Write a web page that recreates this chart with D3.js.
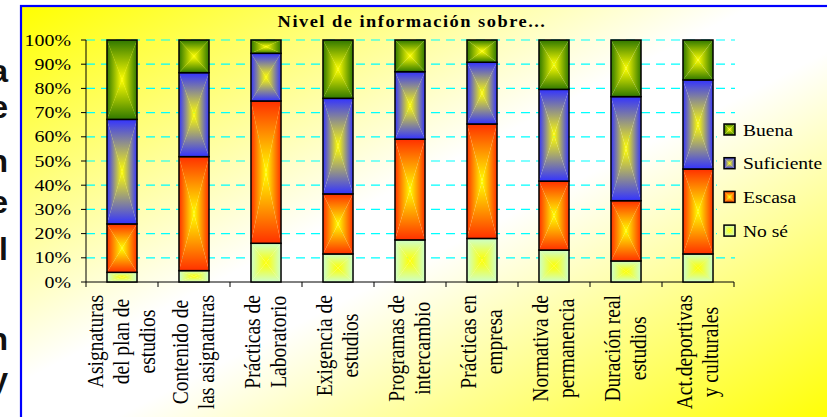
<!DOCTYPE html>
<html>
<head>
<meta charset="utf-8">
<script src="https://cdn.jsdelivr.net/npm/d3@7"></script>
<style>
  html, body { margin: 0; padding: 0; background: #fff; }
  svg { display: block; }
</style>
</head>
<body>
<svg id="chart" width="827" height="417"></svg>
<script>
// Data (percent of answers)
const categories = [
  ["Asignaturas", "del plan de", "estudios"],
  ["Contenido de", "las asignaturas"],
  ["Prácticas de", "Laboratorio"],
  ["Exigencia de", "estudios"],
  ["Programas de", "intercambio"],
  ["Prácticas en", "empresa"],
  ["Normativa de", "permanencia"],
  ["Duración real", "estudios"],
  ["Act.deportivas", "y culturales"]
];
const seriesNames = ["No sé", "Escasa", "Suficiente", "Buena"];
const noSe       = [4.0, 4.7, 16.0, 11.6, 17.4, 18.0, 13.2, 8.7, 11.6];
const escasa     = [20.0, 47.1, 58.8, 24.8, 41.6, 47.3, 28.5, 24.9, 35.1];
const suficiente = [43.2, 34.7, 19.7, 39.5, 27.9, 25.5, 37.9, 43.0, 36.8];
const buena      = [32.8, 13.5, 5.5, 24.1, 13.1, 9.2, 20.4, 23.4, 16.5];
const yTicks = [0, 10, 20, 30, 40, 50, 60, 70, 80, 90, 100];
const title = "Nivel de información sobre...";
// cropped slide text on the left of the chart
const sideLetters = ["a", "e", "n", "e", "l", "n", "y"];
const sideBaselines = [82, 118, 172, 213, 260, 350, 390];

const edgeColors = ["#ccffcc", "#ff3000", "#3333ff", "#307800"];
const S = 1.15; // glyphs look wider than normal
const serif = "'Liberation Serif', 'Times New Roman', Times, serif";

const svg = d3.select("#chart");
const defs = svg.append("defs");

// frame box (goes on past the window)
const frame = { x: 21, y: 6, w: 814, h: 418 };

// background gradient, yellow corners, white across the middle
const bg = defs.append("linearGradient")
  .attr("id", "bg")
  .attr("gradientUnits", "userSpaceOnUse")
  .attr("gradientTransform", `translate(${frame.x},${frame.y}) scale(${frame.w},${frame.h})`)
  .attr("x1", 0).attr("y1", 0).attr("x2", 1).attr("y2", 1);
bg.append("stop").attr("offset", "0%").attr("stop-color", "#ffff00");
bg.append("stop").attr("offset", "45%").attr("stop-color", "#ffffff");
bg.append("stop").attr("offset", "55%").attr("stop-color", "#ffffff");
bg.append("stop").attr("offset", "100%").attr("stop-color", "#ffff00");

// rectangle "from centre" gradient: four triangles, each a linear gradient
const dirs = {
  t: [0, 0, 0, 1],
  b: [0, 1, 0, 0],
  l: [0, 0, 1, 0],
  r: [1, 0, 0, 0]
};
edgeColors.forEach((c, i) => {
  Object.keys(dirs).forEach(k => {
    const d = dirs[k];
    const g = defs.append("linearGradient")
      .attr("id", `g${i}${k}`)
      .attr("x1", d[0]).attr("y1", d[1]).attr("x2", d[2]).attr("y2", d[3]);
    g.append("stop").attr("offset", "0%").attr("stop-color", c);
    g.append("stop").attr("offset", "100%").attr("stop-color", "#ffff00");
  });
});

function drawBox(sel, x0, y0, x1, y1, i) {
  const cx = (x0 + x1) / 2, cy = (y0 + y1) / 2;
  const tris = [
    ["t", [[x0, y0], [x1, y0], [cx, cy]]],
    ["b", [[x0, y1], [x1, y1], [cx, cy]]],
    ["l", [[x0, y0], [x0, y1], [cx, cy]]],
    ["r", [[x1, y0], [x1, y1], [cx, cy]]]
  ];
  tris.forEach(([k, pts]) => {
    sel.append("path")
      .attr("d", "M" + pts.map(p => p.join(",")).join("L") + "Z")
      .attr("fill", `url(#g${i}${k})`);
  });
  sel.append("rect")
    .attr("x", x0).attr("y", y0)
    .attr("width", x1 - x0).attr("height", y1 - y0)
    .attr("fill", "none")
    .attr("stroke", "#000")
    .attr("stroke-width", 1.5);
}

// side letters (the slide behind the chart, cut at the window edge)
svg.selectAll(".side")
  .data(sideLetters)
  .enter()
  .append("text")
  .attr("class", "side")
  .attr("x", 8)
  .attr("y", (d, i) => sideBaselines[i])
  .attr("text-anchor", "end")
  .style("font-family", "'Liberation Sans', Arial, sans-serif")
  .style("font-size", "32px")
  .style("font-weight", "bold")
  .attr("fill", "#111")
  .text(d => d);

// chart background + border
svg.append("rect")
  .attr("x", frame.x).attr("y", frame.y)
  .attr("width", frame.w).attr("height", frame.h)
  .attr("fill", "url(#bg)")
  .attr("stroke", "#0000ff")
  .attr("stroke-width", 2.2);

// scales
const x = d3.scaleBand()
  .domain(d3.range(categories.length))
  .range([86, 734])
  .paddingInner(0.583)
  .paddingOuter(0.2915);
const y = d3.scaleLinear().domain([0, 100]).range([282, 40]);

// gridlines
svg.append("g")
  .selectAll("line")
  .data(yTicks.filter(d => d > 0))
  .enter()
  .append("line")
  .attr("x1", 86).attr("x2", 735)
  .attr("y1", d => y(d)).attr("y2", d => y(d))
  .attr("stroke", "#00ffff")
  .attr("stroke-width", 1.2)
  .attr("stroke-dasharray", "9,6");

// title
svg.append("text")
  .attr("transform", `translate(412,27) scale(${S},1)`)
  .attr("text-anchor", "middle")
  .style("font-family", serif)
  .style("font-size", "16px")
  .style("font-weight", "bold")
  .style("letter-spacing", "1.3px")
  .attr("fill", "#000")
  .text(title);

// y axis
const yAxis = svg.append("g");
yAxis.append("line")
  .attr("x1", 86).attr("x2", 86)
  .attr("y1", y(0)).attr("y2", y(100))
  .attr("stroke", "#000");
yAxis.selectAll(".tk")
  .data(yTicks)
  .enter()
  .append("line")
  .attr("x1", 81).attr("x2", 86)
  .attr("y1", d => y(d)).attr("y2", d => y(d))
  .attr("stroke", "#000");
yAxis.selectAll("text")
  .data(yTicks)
  .enter()
  .append("text")
  .attr("transform", d => `translate(71,${y(d) + 5.5}) scale(${S + 0.02},1)`)
  .attr("text-anchor", "end")
  .style("font-family", serif)
  .style("font-size", "17px")
  .attr("fill", "#000")
  .text(d => d + "%");

// x axis
const xAxis = svg.append("g");
xAxis.append("line")
  .attr("x1", 86).attr("x2", 734)
  .attr("y1", y(0)).attr("y2", y(0))
  .attr("stroke", "#000");
xAxis.selectAll("line.tk")
  .data(d3.range(categories.length + 1))
  .enter()
  .append("line")
  .attr("class", "tk")
  .attr("x1", d => 86 + d * x.step()).attr("x2", d => 86 + d * x.step())
  .attr("y1", y(0)).attr("y2", y(0) + 5)
  .attr("stroke", "#000");

// category labels, rotated, aligned at the axis end
const lineGap = 26;
const fs = 19.5;
categories.forEach((lines, ci) => {
  const cx = x(ci) + x.bandwidth() / 2;
  const g = svg.append("g");
  const texts = lines.map((t, li) => g.append("text")
    .attr("text-anchor", "middle")
    .style("font-family", serif)
    .style("font-size", fs + "px")
    .attr("fill", "#000")
    .attr("x", 0)
    .attr("y", (li - (lines.length - 1) / 2) * lineGap / S + 0.33 * fs)
    .text(t));
  const maxLen = d3.max(texts, t => t.node().getComputedTextLength());
  g.attr("transform", `translate(${cx},${295 + maxLen / 2}) scale(${S},1) rotate(-90)`);
});

// stacked bars
const table = categories.map((c, i) => ({
  "No sé": noSe[i], "Escasa": escasa[i], "Suficiente": suficiente[i], "Buena": buena[i]
}));
const stacked = d3.stack().keys(seriesNames)(table);
const bars = svg.append("g");
stacked.forEach((layer, si) => {
  layer.forEach((d, ci) => {
    const g = bars.append("g");
    drawBox(g, x(ci), y(d[1]), x(ci) + x.bandwidth(), y(d[0]), si);
  });
});

// legend (its box hides the gridlines behind it)
svg.append("rect")
  .attr("x", 717).attr("y", 114)
  .attr("width", 110).attr("height", 134)
  .attr("fill", "url(#bg)");
const legendOrder = [3, 2, 1, 0];
legendOrder.forEach((si, k) => {
  const cy = 129.5 + k * 33.7;
  const g = svg.append("g");
  drawBox(g, 724, cy - 5.5, 735, cy + 5.5, si);
  svg.append("text")
    .attr("transform", `translate(743,${cy + 6}) scale(${S},1)`)
    .style("font-family", serif)
    .style("font-size", "17px")
    .attr("fill", "#000")
    .text(seriesNames[si]);
});
</script>
</body>
</html>
